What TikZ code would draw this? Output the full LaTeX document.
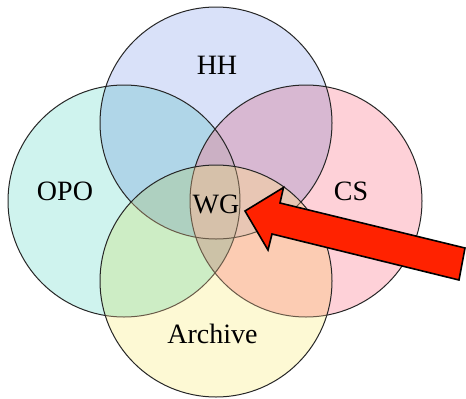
\documentclass[tikz,border=0pt]{standalone}
\usepackage{fontspec}
\setmainfont{Liberation Serif}
\definecolor{hhc}{RGB}{217,225,249}
\definecolor{opoc}{RGB}{207,243,238}
\definecolor{csc}{RGB}{254,209,216}
\definecolor{arcc}{RGB}{253,249,212}
\definecolor{quadc}{RGB}{214,193,170}
\definecolor{topc}{RGB}{203,176,196}
\definecolor{rightc}{RGB}{232,198,180}
\definecolor{innerline}{RGB}{105,90,72}
\definecolor{arrowred}{RGB}{255,34,0}
\begin{document}
\begin{tikzpicture}[x=1pt,y=-1pt,
  venn/.style={circle, minimum size=232pt, inner sep=0pt, outer sep=0pt},
  lbl/.style={font=\fontsize{28}{30}\selectfont, anchor=base, inner sep=0pt},
  outline/.style={line width=1pt, draw=black!85},
  innerout/.style={line width=1pt, draw=innerline},
  bigarrow/.style={line width=1.6pt, draw=black, fill=arrowred, line join=miter}
]
\useasboundingbox (0,0) rectangle (466,399);
% fills
\begin{scope}[blend mode=multiply]
  \node[venn, fill=hhc]  (hh)  at (216,123) {};
  \node[venn, fill=opoc] (opo) at (124,201) {};
  \node[venn, fill=csc]  (cs)  at (306,201) {};
  \node[venn, fill=arcc] (ar)  at (216,281) {};
\end{scope}
% region where all four meet
\begin{scope}
  \clip (hh.center) circle (116pt);
  \clip (opo.center) circle (116pt);
  \clip (cs.center) circle (116pt);
  \clip (ar.center) circle (116pt);
  \fill[quadc] (0,0) rectangle (466,399);
\end{scope}
% HH, OPO and CS without Archive
\begin{scope}
  \clip (hh.center) circle (116pt);
  \clip (opo.center) circle (116pt);
  \clip (cs.center) circle (116pt);
  \begin{scope}[even odd rule]
    \clip (-10,-10) rectangle (476,409) (ar.center) circle (116pt);
    \fill[topc] (0,0) rectangle (466,399);
  \end{scope}
\end{scope}
% HH, CS and Archive without OPO
\begin{scope}
  \clip (hh.center) circle (116pt);
  \clip (cs.center) circle (116pt);
  \clip (ar.center) circle (116pt);
  \begin{scope}[even odd rule]
    \clip (-10,-10) rectangle (476,409) (opo.center) circle (116pt);
    \fill[rightc] (0,0) rectangle (466,399);
  \end{scope}
\end{scope}
% outlines outside the Archive circle
\begin{scope}[even odd rule]
  \clip (-10,-10) rectangle (476,409) (ar.center) circle (116pt);
  \draw[outline] (hh.center) circle (116pt);
  \draw[outline] (opo.center) circle (116pt);
  \draw[outline] (cs.center) circle (116pt);
\end{scope}
% outlines seen through the Archive circle
\begin{scope}
  \clip (ar.center) circle (116pt);
  \draw[innerout] (hh.center) circle (116pt);
  \draw[innerout] (opo.center) circle (116pt);
  \draw[innerout] (cs.center) circle (116pt);
\end{scope}
\draw[outline] (ar.center) circle (116pt);
% labels
\node[lbl] (lhh) at (217,74) {HH};
\node[lbl] (lopo) at (65,200) {OPO};
\node[lbl] (lcs) at (351,200) {CS};
\node[lbl] (lwg) at (216,213) {WG};
\node[lbl] (lar) at (212.5,343) {Archive};
% arrow
\coordinate (tip) at (245,211);
\draw[bigarrow] (tip) -- (283.5,187.5) -- (280,203) -- (465,248) -- (459,280)
  -- (272,234) -- (268,250) -- cycle;
\end{tikzpicture}
\end{document}
